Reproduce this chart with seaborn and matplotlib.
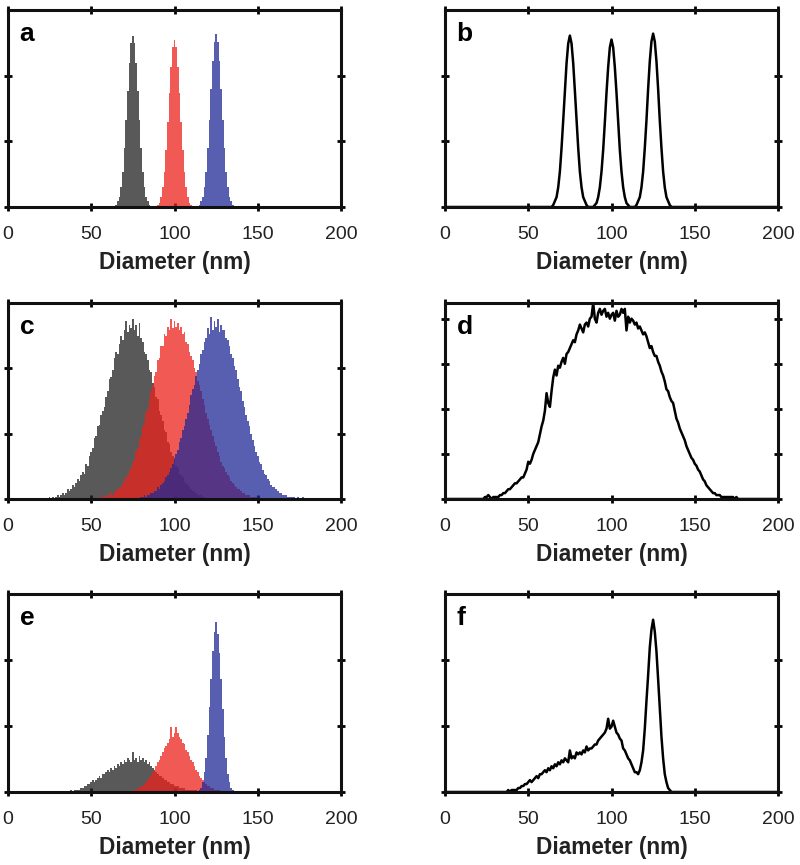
import numpy as np
import pandas as pd
import seaborn as sns
from matplotlib import pyplot as plt

# Histogram counts, 1 nm bins, first bin centre given by *_start.
# Heights are in % of the axes height.

# panel a: three narrow populations
gray_a_start = 65
gray_a = [1, 3, 5, 10, 18, 30, 44, 59, 73, 83, 87, 83, 73, 59, 44, 30, 18, 10, 5, 3, 1]
red_a_start = 90
red_a = [1, 2, 5, 10, 18, 29, 43, 58, 71, 81, 85, 81, 71, 58, 43, 29, 18, 10, 5, 2, 1]
blue_a_start = 115
blue_a = [1, 3, 5, 10, 18, 30, 44, 60, 74, 84, 88, 84, 74, 60, 44, 30, 18, 10, 5, 3, 1]

# panel c: three broad populations
gray_c_start = 25
gray_c = [1, 0, 1, 0, 1, 2, 1, 2, 3, 2,
          3, 5, 4, 5, 7, 6, 8, 10, 9, 12,
          14, 13, 18, 17, 22, 24, 26, 31, 32, 37,
          38, 43, 45, 47, 52, 55, 61, 62, 66, 72,
          75, 74, 79, 83, 81, 86, 91, 85, 89, 87,
          92, 86, 89, 83, 90, 82, 80, 75, 74, 71,
          66, 65, 59, 57, 52, 51, 45, 43, 40, 35,
          34, 29, 28, 24, 22, 20, 17, 16, 13, 12,
          11, 9, 8, 7, 6, 5, 4, 4, 3, 2,
          2, 2, 1, 1]
red_c_start = 55
red_c = [0, 1, 1, 1, 2, 1, 2, 3, 2, 4,
         4, 5, 6, 6, 8, 9, 11, 12, 15, 16,
         19, 20, 24, 26, 30, 32, 37, 39, 44, 46,
         51, 55, 58, 63, 65, 71, 72, 78, 78, 84,
         83, 88, 86, 92, 87, 91, 88, 90, 86, 88,
         84, 85, 80, 79, 75, 73, 71, 67, 65, 60,
         58, 55, 51, 48, 44, 41, 38, 35, 32, 29,
         27, 24, 22, 19, 17, 16, 14, 12, 11, 9,
         8, 7, 6, 5, 5, 4, 3, 3, 2, 2,
         2, 1, 1, 1, 1, 0]
blue_c_start = 80
blue_c = [1, 1, 2, 1, 2, 2, 3, 3, 4, 4,
          6, 5, 7, 8, 9, 11, 12, 14, 16, 18,
          21, 23, 25, 29, 31, 35, 37, 41, 44, 48,
          53, 56, 58, 63, 66, 69, 74, 76, 80, 82,
          87, 84, 93, 86, 91, 88, 92, 85, 89, 86,
          86, 82, 81, 78, 74, 72, 68, 66, 61, 57,
          55, 50, 47, 43, 40, 37, 33, 30, 27, 24,
          22, 19, 18, 15, 13, 12, 10, 9, 7, 6,
          6, 5, 4, 3, 3, 2, 2, 2, 1, 1,
          1, 1, 1, 0, 1, 0, 0, 1, 0]

# panel d: measured mixture of the three broad populations
mix_d_start = 20
mix_d = [0, 0, 0, 0, 1, 1, 2, 1, 0, 1,
         1, 1, 1, 2, 2, 3, 3, 4, 5, 5,
         6, 7, 8, 8, 9, 10, 11, 11, 13, 15,
         19, 18, 20, 23, 25, 27, 29, 33, 37, 40,
         45, 54, 49, 47, 55, 62, 66, 63, 68, 67,
         70, 72, 69, 74, 75, 77, 79, 81, 80, 84,
         86, 89, 87, 85, 89, 90, 88, 92, 93, 100,
         92, 90, 95, 97, 94, 96, 97, 93, 95, 92,
         94, 95, 91, 96, 93, 94, 97, 95, 97, 86,
         93, 90, 92, 91, 89, 90, 87, 88, 86, 84,
         85, 83, 80, 77, 78, 75, 73, 73, 70, 68,
         65, 63, 60, 56, 55, 52, 50, 49, 45, 41,
         39, 36, 34, 32, 30, 27, 25, 23, 21, 20,
         18, 17, 15, 14, 12, 10, 9, 7, 6, 5,
         4, 3, 3, 2, 2, 2, 1, 1, 1, 1,
         1, 1, 1, 1, 0, 1, 0, 0, 0, 0]

# panel e: two broad populations plus one narrow one
gray_e_start = 35
gray_e = [0, 0, 0, 1, 0, 1, 1,
          1, 1, 2, 2, 3, 3, 4, 4, 5, 6,
          5, 6, 7, 8, 7, 9, 9, 10, 11, 10,
          12, 11, 13, 12, 14, 13, 15, 14, 16, 15,
          17, 16, 15, 20, 16, 17, 15, 18, 16, 17,
          15, 16, 14, 15, 13, 12, 11, 10, 9, 8,
          8, 7, 6, 6, 5, 5, 4, 4, 3, 3,
          3, 2, 2, 2, 2, 1, 1, 1, 1, 1,
          1, 1, 0, 1, 0, 0, 0]
red_e_start = 75
red_e = [1, 1, 1, 2, 2, 3, 3, 4, 5, 6,
         8, 8, 10, 11, 13, 15, 16, 18, 20, 22,
         23, 25, 27, 33, 28, 30, 33, 30, 28, 27,
         25, 24, 21, 20, 18, 16, 15, 13, 11, 10,
         8, 7, 6, 5, 4, 3, 3, 2, 2, 1,
         1, 1, 1, 0]
blue_e_start = 115
blue_e = [1, 2, 5, 10, 17, 29, 43, 57, 71, 81, 86, 80, 70, 57, 42, 28, 17, 9, 5, 2, 1]

x_ticks = [0, 50, 100, 150, 200]

GRAY, RED, BLUE = '#222222', '#eb221b', '#222996'

sns.set_theme(style='white')
plt.rcParams['font.family'] = ['Liberation Sans', 'DejaVu Sans']

diam = np.arange(0, 201)


def on_grid(start, counts):
    s = pd.Series(counts, index=start + np.arange(len(counts)), dtype=float)
    return s.reindex(diam, fill_value=0.0)


def draw_hist(ax, start, counts, color):
    df = pd.DataFrame({'diameter': start + np.arange(len(counts)),
                       'count': np.asarray(counts, dtype=float)})
    sns.histplot(data=df, x='diameter', weights='count', binwidth=1,
                 binrange=(start - 0.5, start + len(counts) - 0.5),
                 element='step', fill=True, color=color, alpha=0.75,
                 linewidth=0, edgecolor='none', ax=ax)


def draw_total(ax, series):
    df = pd.DataFrame({'diameter': diam,
                       'count': sum(on_grid(s, c) for s, c in series).values})
    sns.lineplot(data=df, x='diameter', y='count', color='black', linewidth=1.8, ax=ax)


def style(ax, letter, ymax, ystep):
    ax.set_xlim(0, 200)
    ax.set_ylim(0, ymax)
    ax.set_xticks(x_ticks)
    ax.set_yticks(np.arange(0, ymax - 1, ystep))
    ax.tick_params(direction='inout', length=6, width=2, colors='black',
                   top=True, right=True, bottom=True, left=True,
                   labelleft=False, labelsize=14, pad=11)
    ax.tick_params(axis='x', labelcolor='#222222')
    ax.set_xlabel('Diameter (nm)', fontsize=16.3, fontweight='bold', labelpad=5.5, color='#222222')
    ax.set_ylabel('')
    for sp in ax.spines.values():
        sp.set_linewidth(2.2)
        sp.set_color('#111111')
    ax.text(0.035, 0.94, letter, transform=ax.transAxes, ha='left', va='top',
            fontsize=19, fontweight='bold', color='black')


fig = plt.figure(figsize=(8, 8.65), dpi=100)
W, H = 800, 865
cols = [8, 445]
rows = [(10, 207), (303, 499), (594, 792)]
axes = []
for top, bottom in rows:
    for left in cols:
        axes.append(fig.add_axes([left / W, (H - bottom) / H, 333 / W, (bottom - top) / H]))

pop_a = [(gray_a_start, gray_a), (red_a_start, red_a), (blue_a_start, blue_a)]
pop_c = [(gray_c_start, gray_c), (red_c_start, red_c), (blue_c_start, blue_c)]
pop_e = [(gray_e_start, gray_e), (red_e_start, red_e), (blue_e_start, blue_e)]

for ax_h, pops in zip([axes[0], axes[2], axes[4]], [pop_a, pop_c, pop_e]):
    for (start, counts), col in zip(pops, [GRAY, RED, BLUE]):
        draw_hist(ax_h, start, counts, col)

draw_total(axes[1], pop_a)
draw_total(axes[3], [(mix_d_start, mix_d)])
draw_total(axes[5], pop_e)

style(axes[0], 'a', 100, 100 / 3)
style(axes[1], 'b', 100, 100 / 3)
style(axes[2], 'c', 100, 100 / 3)
style(axes[3], 'd', 100, 23)
style(axes[4], 'e', 100, 100 / 3)
style(axes[5], 'f', 100, 100 / 3)

fig.savefig('out.png', dpi=100)
